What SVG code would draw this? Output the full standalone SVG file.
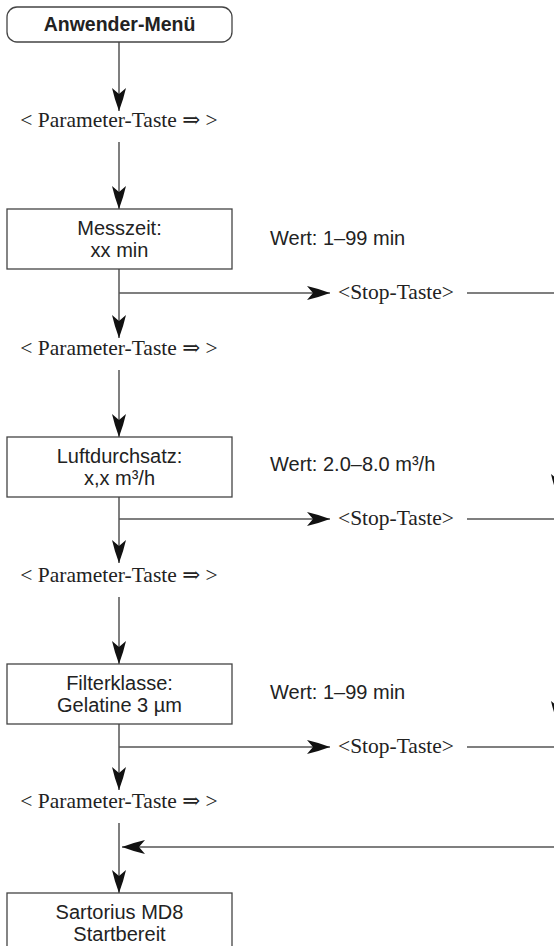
<svg xmlns="http://www.w3.org/2000/svg" width="554" height="946" viewBox="0 0 554 946">
<defs>
<style>
.box{fill:#fff;stroke:#444;stroke-width:1.3}
.ln{fill:none;stroke:#555;stroke-width:1.5}
.t{font-family:"Liberation Sans",Arial,sans-serif;font-size:20px;fill:#222}
.tb{font-family:"Liberation Sans",Arial,sans-serif;font-size:19.5px;font-weight:bold;fill:#222}
.ts{font-family:"Liberation Serif","DejaVu Serif",serif;font-size:21.5px;fill:#222}
.st{font-family:"Liberation Serif","DejaVu Serif",serif;font-size:21.5px;fill:#222}
.ah{fill:#111}
</style>
<marker id="arr" viewBox="-26 -8 27 16" refX="0" refY="0" markerWidth="27" markerHeight="16" markerUnits="userSpaceOnUse" orient="auto" overflow="visible">
<path class="ah" d="M0,0 Q-12,-4.5 -23,-7 L-17,0 L-23,7 Q-12,4.5 0,0 Z"/>
</marker>
</defs>
<rect width="554" height="946" fill="#fff"/>

<g id="connectors">
<line class="ln" x1="119" y1="42" x2="119" y2="111" marker-end="url(#arr)"/>
<line class="ln" x1="119" y1="142" x2="119" y2="209" marker-end="url(#arr)"/>
<line class="ln" x1="119" y1="269" x2="119" y2="338" marker-end="url(#arr)"/>
<line class="ln" x1="119" y1="293" x2="330" y2="293" marker-end="url(#arr)"/>
<line class="ln" x1="467" y1="293" x2="560" y2="293"/>
<line class="ln" x1="119" y1="370" x2="119" y2="437" marker-end="url(#arr)"/>
<line class="ln" x1="119" y1="497" x2="119" y2="563" marker-end="url(#arr)"/>
<line class="ln" x1="119" y1="519" x2="330" y2="519" marker-end="url(#arr)"/>
<line class="ln" x1="467" y1="519" x2="560" y2="519"/>
<line class="ln" x1="558" y1="300" x2="558" y2="497" marker-end="url(#arr)"/>
<line class="ln" x1="119" y1="597" x2="119" y2="664" marker-end="url(#arr)"/>
<line class="ln" x1="119" y1="724" x2="119" y2="790" marker-end="url(#arr)"/>
<line class="ln" x1="119" y1="747" x2="330" y2="747" marker-end="url(#arr)"/>
<line class="ln" x1="467" y1="747" x2="560" y2="747"/>
<line class="ln" x1="558" y1="525" x2="558" y2="724" marker-end="url(#arr)"/>
<line class="ln" x1="119" y1="823" x2="119" y2="893" marker-end="url(#arr)"/>
<line class="ln" x1="560" y1="847" x2="122" y2="847" marker-end="url(#arr)"/>
</g>

<g id="start">
<rect class="box" x="7" y="7" width="225" height="35" rx="10"/>
<text class="tb" x="119.5" y="31" text-anchor="middle">Anwender-Menü</text>
</g>

<g id="param1"><text class="ts" x="119" y="127" text-anchor="middle">&lt; Parameter-Taste ⇒ &gt;</text></g>

<g id="messzeit">
<rect class="box" x="7" y="209" width="225" height="60"/>
<text class="t" x="119.5" y="235" text-anchor="middle">Messzeit:</text>
<text class="t" x="119.5" y="257" text-anchor="middle">xx min</text>
</g>
<g id="wert1"><text class="t" x="270" y="245">Wert: 1–99 min</text></g>
<g id="stop1"><text class="st" x="338" y="299">&lt;Stop-Taste&gt;</text></g>

<g id="param2"><text class="ts" x="119" y="355" text-anchor="middle">&lt; Parameter-Taste ⇒ &gt;</text></g>

<g id="luft">
<rect class="box" x="7" y="437" width="225" height="60"/>
<text class="t" x="119.5" y="463" text-anchor="middle">Luftdurchsatz:</text>
<text class="t" x="119.5" y="485" text-anchor="middle">x,x m³/h</text>
</g>
<g id="wert2"><text class="t" x="270" y="471">Wert: 2.0–8.0 m³/h</text></g>
<g id="stop2"><text class="st" x="338" y="525">&lt;Stop-Taste&gt;</text></g>

<g id="param3"><text class="ts" x="119" y="582" text-anchor="middle">&lt; Parameter-Taste ⇒ &gt;</text></g>

<g id="filter">
<rect class="box" x="7" y="664" width="225" height="60"/>
<text class="t" x="119.5" y="690" text-anchor="middle">Filterklasse:</text>
<text class="t" x="119.5" y="712" text-anchor="middle">Gelatine 3 µm</text>
</g>
<g id="wert3"><text class="t" x="270" y="699">Wert: 1–99 min</text></g>
<g id="stop3"><text class="st" x="338" y="753">&lt;Stop-Taste&gt;</text></g>

<g id="param4"><text class="ts" x="119" y="808" text-anchor="middle">&lt; Parameter-Taste ⇒ &gt;</text></g>

<g id="ready">
<rect class="box" x="7" y="893" width="225" height="70"/>
<text class="t" x="119.5" y="919" text-anchor="middle">Sartorius MD8</text>
<text class="t" x="119.5" y="941" text-anchor="middle">Startbereit</text>
</g>
</svg>
